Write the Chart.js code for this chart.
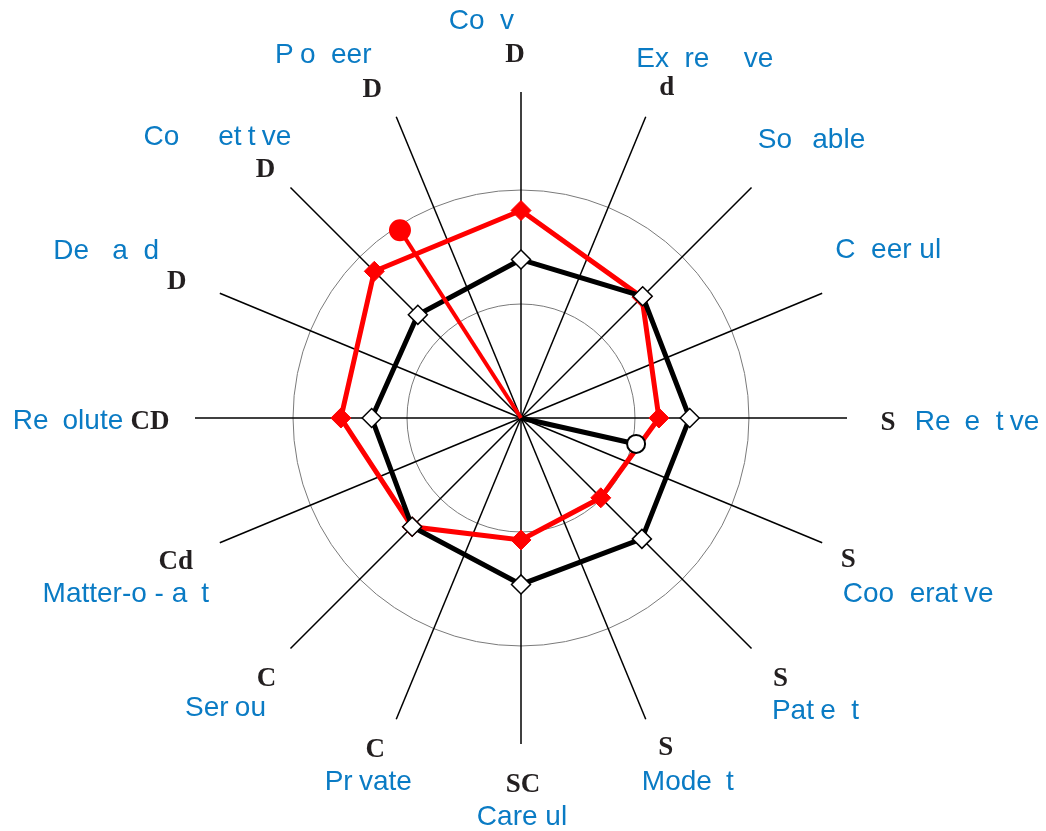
<!DOCTYPE html>
<html>
<head>
<meta charset="utf-8">
<script src="https://cdn.jsdelivr.net/npm/chart.js@4.4.0/dist/chart.umd.min.js"></script>
<style>
body { margin: 0; background: #fff; }
canvas { display: block; }
</style>
</head>
<body>
<canvas id="myChart" width="1046" height="831"></canvas>
<script>
// the sixteen traits, clockwise from the top spoke
var traits = ["Convincing", "Expressive", "Sociable", "Cheerful", "Receptive", "Cooperative", "Patient", "Modest",
              "Careful", "Private", "Serious", "Matter-of-fact", "Resolute", "Demanding", "Competitive", "Pioneer"];
var codes = ["D", "d", "", "", "S", "S", "S", "S", "SC", "C", "C", "Cd", "CD", "D", "D", "D"];
// only every second spoke carries a value
var blackValues = [1.39, null, 1.51, null, 1.48, null, 1.50, null, 1.46, null, 1.35, null, 1.31, null, 1.28, null];
var redValues = [1.82, null, 1.50, null, 1.21, null, 0.99, null, 1.07, null, 1.35, null, 1.58, null, 1.82, null];
// resultant vectors: black then red (angle in degrees clockwise from top)
var vectorAngles = [102.7, 327.2];
var vectorLengths = [1.035, 1.96];
var ringValues = [0, 1, 2];
var scaleMax = 2.86;
// glyphs the original font did not print
var missingGlyphs = "psincghfm";

// label placement, offsets from each spoke tip: [dx, dy of baseline]
var codeOffsets = [[-6, -30], [21, -22], [0, 0], [0, 0], [41, 12], [26, 24], [29, 37], [20, 36],
                   [2, 48], [-21, 38], [-24, 37], [-44, 26], [-45, 11], [-43, -4], [-25, -10], [-24, -20]];
var wordOffsets = [[-3, -63], [59, -50], [60, -39], [66, -35], [130, 12], [96, 59], [64, 70], [42, 71],
                   [1, 81], [-28, 71], [-58, 67], [-94, 59], [-127, 11], [-95, -34], [-73, -42], [-73, -54]];

function drawWord(ctx, word, cx, y) {//draws the word centred on cx, leaving blanks for the lost glyphs
    var x0 = cx - ctx.measureText(word).width / 2;
    for (var i = 0; i < word.length; i++) {
        var ch = word[i];
        if (missingGlyphs.indexOf(ch) >= 0) continue;
        ctx.fillText(ch, x0 + ctx.measureText(word.slice(0, i)).width, y);
    }
}

var vectorPlugin = {
    id: 'vectors',
    afterDatasetsDraw: function(chart) {
        var ctx = chart.ctx;
        var scale = chart.scales.r;
        var step = 360 / traits.length;
        var styles = [
            {line: '#000000', width: 5, fill: '#ffffff', border: '#000000', radius: 9},
            {line: '#ff0000', width: 4, fill: '#ff0000', border: '#ff0000', radius: 10}
        ];
        ctx.save();
        for (var k = 0; k < vectorAngles.length; k++) {
            var end = scale.getPointPositionForValue(vectorAngles[k] / step, vectorLengths[k]);
            var s = styles[k];
            ctx.strokeStyle = s.line;
            ctx.lineWidth = s.width;
            ctx.beginPath();
            ctx.moveTo(scale.xCenter, scale.yCenter);
            ctx.lineTo(end.x, end.y);
            ctx.stroke();
            ctx.beginPath();
            ctx.arc(end.x, end.y, s.radius, 0, Math.PI * 2);
            ctx.fillStyle = s.fill;
            ctx.fill();
            ctx.lineWidth = 2;
            ctx.strokeStyle = s.border;
            ctx.stroke();
        }
        ctx.restore();
    }
};

var labelPlugin = {
    id: 'traitLabels',
    afterDraw: function(chart) {
        var ctx = chart.ctx;
        var scale = chart.scales.r;
        ctx.save();
        ctx.textAlign = 'left';
        ctx.textBaseline = 'alphabetic';
        for (var i = 0; i < traits.length; i++) {
            var tip = scale.getPointPosition(i, scale.drawingArea);
            if (codes[i]) {
                ctx.font = 'bold 27px "Liberation Serif"';
                ctx.fillStyle = '#231f20';
                drawWord(ctx, codes[i], tip.x + codeOffsets[i][0], tip.y + codeOffsets[i][1]);
            }
            ctx.font = '28px "Liberation Sans"';
            ctx.fillStyle = '#0a7bc4';
            drawWord(ctx, traits[i], tip.x + wordOffsets[i][0], tip.y + wordOffsets[i][1]);
        }
        ctx.restore();
    }
};

var context = document.getElementById('myChart');
var myRadar = new Chart(context, {
    type: 'radar',
    data: {
        labels: traits,
        datasets: [
            {
                label: 'black',
                data: blackValues,
                spanGaps: true,
                fill: false,
                borderColor: '#000000',
                borderWidth: 5,
                pointStyle: 'rectRot',
                pointRadius: 9.5,
                pointBackgroundColor: '#ffffff',
                pointBorderColor: '#000000',
                pointBorderWidth: 1.5
            },
            {
                label: 'red',
                data: redValues,
                spanGaps: true,
                fill: false,
                borderColor: '#ff0000',
                borderWidth: 5,
                pointStyle: 'rectRot',
                pointRadius: 10,
                pointBackgroundColor: '#ff0000',
                pointBorderColor: '#ff0000',
                pointBorderWidth: 1
            }
        ]
    },
    options: {
        responsive: false,
        animation: false,
        layout: { padding: { left: 171, right: 175, top: 92, bottom: 87 } },
        plugins: { legend: { display: false }, tooltip: { enabled: false } },
        elements: { line: { tension: 0 } },
        scales: {
            r: {
                min: 0,
                max: scaleMax,
                afterBuildTicks: function(scale) {
                    scale.ticks = ringValues.map(function(v) { return {value: v}; });
                },
                ticks: { display: false },
                pointLabels: { display: false },
                grid: { circular: true, color: '#7a7a7a', lineWidth: 1 },
                angleLines: { color: '#000000', lineWidth: 1.5 }
            }
        }
    },
    plugins: [vectorPlugin, labelPlugin]
});
</script>
</body>
</html>
